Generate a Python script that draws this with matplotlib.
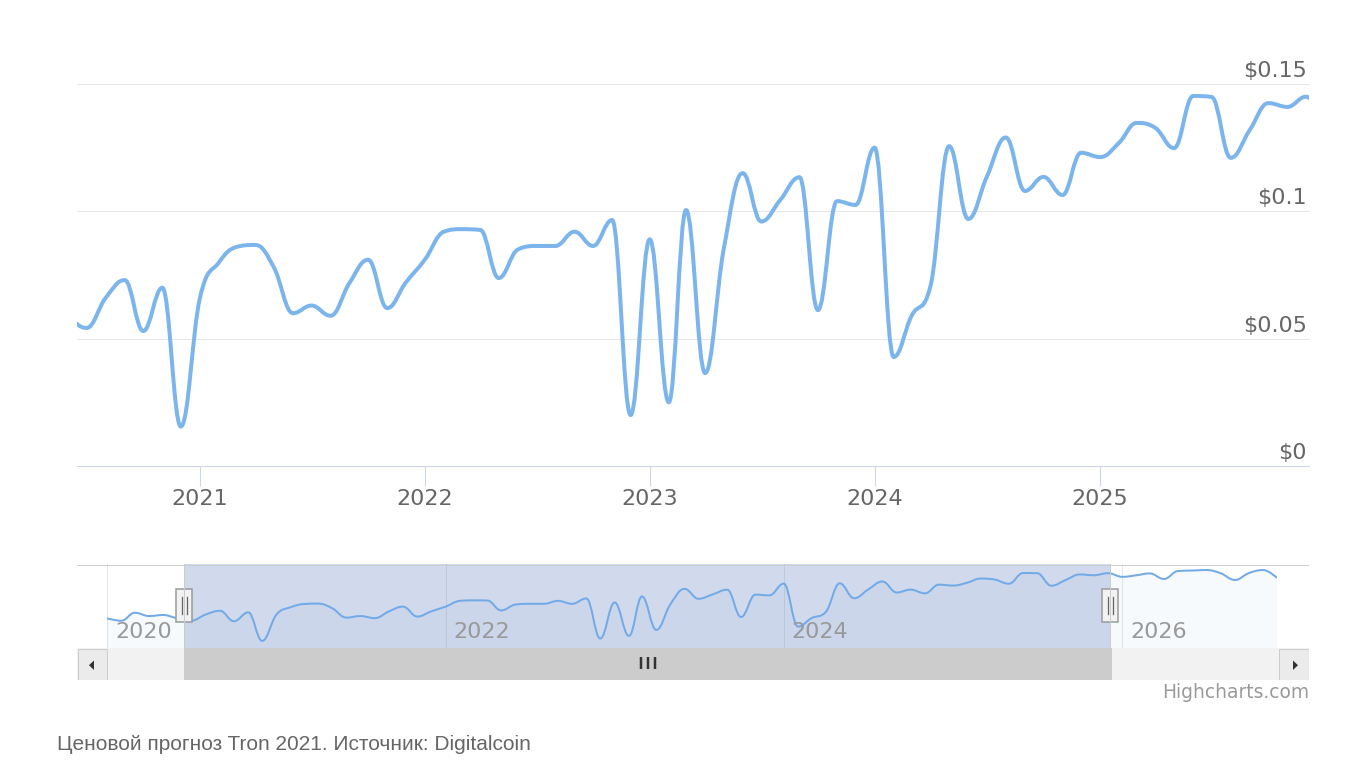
import datetime as dt

import matplotlib
matplotlib.use("Agg")
import matplotlib.dates as mdates
import matplotlib.pyplot as plt
import numpy as np
import pandas as pd
from matplotlib.patches import PathPatch, Polygon, Rectangle
from matplotlib.path import Path

# monthly forecast values, USD
prices_2020 = [0.0586, 0.054, 0.0693, 0.063, 0.065, 0.0586, 0.0542, 0.066, 0.073, 0.053, 0.070, 0.0155]
prices_2021 = [0.066, 0.080, 0.086, 0.0868, 0.078, 0.060, 0.063, 0.059, 0.072, 0.081, 0.062, 0.072]
prices_2022 = [0.081, 0.092, 0.093, 0.0927, 0.0738, 0.085, 0.0864, 0.0864, 0.092, 0.0864, 0.0966, 0.020]
prices_2023 = [0.089, 0.025, 0.1005, 0.0365, 0.085, 0.115, 0.096, 0.1045, 0.1134, 0.0612, 0.104, 0.1025]
prices_2024 = [0.125, 0.0428, 0.059, 0.071, 0.1256, 0.097, 0.1135, 0.129, 0.108, 0.1135, 0.1064, 0.123]
prices_2025 = [0.1213, 0.127, 0.1347, 0.1327, 0.1248, 0.1453, 0.1449, 0.121, 0.132, 0.1425, 0.141, 0.145]
prices_2026 = [0.138, 0.141, 0.1445, 0.134, 0.149, 0.150, 0.151, 0.145, 0.132, 0.145, 0.151, 0.136]

months = pd.date_range("2020-01-01", "2026-12-01", freq="MS")
prices = np.array(prices_2020 + prices_2021 + prices_2022 + prices_2023
                  + prices_2024 + prices_2025 + prices_2026)

view_start = dt.datetime(2020, 6, 15, 12)
view_end = dt.datetime(2025, 12, 6)
main_years = [2021, 2022, 2023, 2024, 2025]
nav_years = [2020, 2022, 2024, 2026]
y_ticks = [0, 0.05, 0.1, 0.15]

caption = "Ценовой прогноз Tron 2021. Источник: Digitalcoin"

LINE = "#7cb5ec"
W, H = 1365, 768
PX = 0.72  # points per pixel at dpi 100
NAV_L, NAV_R = 107, 1277


def fx(px):
    return px / W


def fy(py):
    return 1 - py / H


def hc_spline(x, y, smoothing=1.5):
    # same control points as the highcharts spline series
    n = len(x)
    lcx, lcy = x.astype(float).copy(), y.astype(float).copy()
    rcx, rcy = x.astype(float).copy(), y.astype(float).copy()
    d = smoothing + 1
    for i in range(1, n - 1):
        lx, ly, px, py, nx, ny = x[i - 1], y[i - 1], x[i], y[i], x[i + 1], y[i + 1]
        a = (smoothing * px + lx) / d
        b = (smoothing * py + ly) / d
        c = (smoothing * px + nx) / d
        e = (smoothing * py + ny) / d
        corr = 0
        if c != a:
            corr = ((e - b) * (c - px)) / (c - a) + py - e
        b += corr
        e += corr
        if b > ly and b > py:
            b = max(ly, py)
            e = 2 * py - b
        elif b < ly and b < py:
            b = min(ly, py)
            e = 2 * py - b
        if e > ny and e > py:
            e = max(ny, py)
            b = 2 * py - e
        elif e < ny and e < py:
            e = min(ny, py)
            b = 2 * py - e
        lcx[i], lcy[i], rcx[i], rcy[i] = a, b, c, e
    verts = [(x[0], y[0])]
    codes = [Path.MOVETO]
    for i in range(1, n):
        verts += [(rcx[i - 1], rcy[i - 1]), (lcx[i], lcy[i]), (x[i], y[i])]
        codes += [Path.CURVE4] * 3
    return verts, codes


xnum = mdates.date2num(months.to_pydatetime())
verts, codes = hc_spline(xnum, prices)

fig = plt.figure(figsize=(W / 100, H / 100), dpi=100)
fig.patch.set_facecolor("white")

# ---- main chart
ax = fig.add_axes([fx(77), fy(466), (1309 - 77) / W, (466 - 84) / H])
ax.add_patch(PathPatch(Path(verts, codes), fill=False, edgecolor=LINE, lw=4 * PX,
                       capstyle="round", joinstyle="round", zorder=3))
ax.set_xlim(mdates.date2num(view_start), mdates.date2num(view_end))
ax.set_ylim(0, 0.15)
ax.set_yticks(y_ticks)
ax.grid(axis="y", color="#e6e6e6", lw=PX)
for gl in ax.yaxis.get_gridlines():
    gl.set_clip_on(False)
ax.tick_params(axis="y", length=0, labelleft=False)
ax.set_xticks([mdates.date2num(dt.datetime(y, 1, 1)) for y in main_years])
ax.set_xticklabels([str(y) for y in main_years])
ax.tick_params(axis="x", length=20 * PX, width=PX, color="#ccd6eb",
               labelsize=16, labelcolor="#666666", pad=2.5)
for s in ["top", "left", "right"]:
    ax.spines[s].set_visible(False)
ax.spines["bottom"].set_color("#ccd6eb")
ax.spines["bottom"].set_linewidth(PX)
for v in y_ticks:
    ax.annotate(r"\$" + ("%g" % v), xy=(1, v), xycoords=("axes fraction", "data"),
                xytext=(-2 * PX, 13 * PX), textcoords="offset points",
                ha="right", va="center", fontsize=16, color="#666666")

# ---- navigator
nav_x0, nav_x1 = xnum[0], xnum[-1]
nav = fig.add_axes([fx(NAV_L), fy(648), (NAV_R - NAV_L) / W, (648 - 564) / H], zorder=2)
nav.patch.set_alpha(0)
nav.set_xlim(nav_x0, nav_x1)
nav.set_ylim(0.0019, 0.1625)
nav.axis("off")
for y in nav_years:
    d = mdates.date2num(dt.datetime(y, 1, 1))
    nav.axvline(d, color="#e6e6e6", lw=PX, zorder=1)
    nav.annotate(str(y), xy=(d, 0), xycoords=("data", "axes fraction"),
                 xytext=(8 * PX, 16 * PX), textcoords="offset points",
                 ha="left", va="center", fontsize=16, color="#999999", zorder=5)
fill_verts = verts + [(xnum[-1], 0.0019), (xnum[0], 0.0019), (xnum[0], prices[0])]
fill_codes = codes + [Path.LINETO, Path.LINETO, Path.CLOSEPOLY]
nav.add_patch(PathPatch(Path(fill_verts, fill_codes), facecolor=LINE, alpha=0.06,
                        edgecolor="none", zorder=2))
nav.axvspan(mdates.date2num(view_start), mdates.date2num(view_end),
            color=(102 / 255, 133 / 255, 194 / 255, 0.3), lw=0, zorder=3)
nav.add_patch(PathPatch(Path(verts, codes), fill=False, edgecolor="#72aae8",
                        lw=2 * PX, zorder=4))


def nav_px(d):
    return NAV_L + (mdates.date2num(d) - nav_x0) / (nav_x1 - nav_x0) * (NAV_R - NAV_L)


zmin, zmax = nav_px(view_start), nav_px(view_end)

# ---- navigator chrome and scrollbar, in pixel units
ch = fig.add_axes([fx(77), fy(680), (1309 - 77) / W, (680 - 564) / H], zorder=3)
ch.patch.set_alpha(0)
ch.set_xlim(77, 1309)
ch.set_ylim(680, 564)
ch.axis("off")
ch.plot([77, 1309], [564.5, 564.5], color="#cccccc", lw=PX)
for zx in (zmin, zmax):
    ch.plot([zx, zx], [564, 648], color="#cccccc", lw=PX)
ch.add_patch(Rectangle((77, 648), 1232, 32, facecolor="#f2f2f2", edgecolor="none"))
ch.add_patch(Rectangle((zmin, 648), zmax - zmin + 2, 32, facecolor="#cccccc", edgecolor="none"))
for bx in (77.5, 1279):
    ch.add_patch(Rectangle((bx, 648.5), 29.5, 31, facecolor="#ebebeb",
                           edgecolor="#cccccc", lw=PX))
ch.add_patch(Polygon([(94, 660.5), (94, 670), (89, 665.2)], facecolor="#333333"))
ch.add_patch(Polygon([(1293, 660.5), (1293, 670), (1298, 665.2)], facecolor="#333333"))
mid = (zmin + zmax + 2) / 2
for off in (-7, 0, 7):
    ch.plot([mid + off, mid + off], [657, 669], color="#333333", lw=2.5 * PX,
            solid_capstyle="butt")
for zx in (zmin, zmax):
    ch.add_patch(Rectangle((zx - 8, 589), 16, 33, facecolor="#f2f2f2",
                           edgecolor="#999999", lw=1.5 * PX))
    for off in (-2.5, 2.5):
        ch.plot([zx + off, zx + off], [597, 614], color="#666666", lw=1.3 * PX)

fig.text(fx(1309), fy(692), "Highcharts.com", ha="right", va="center",
         fontsize=13.4, color="#999999")
fig.text(fx(57), fy(744), caption, ha="left", va="center", fontsize=15,
         color="#666666", family="Liberation Sans")

fig.savefig("out.png", dpi=100)
